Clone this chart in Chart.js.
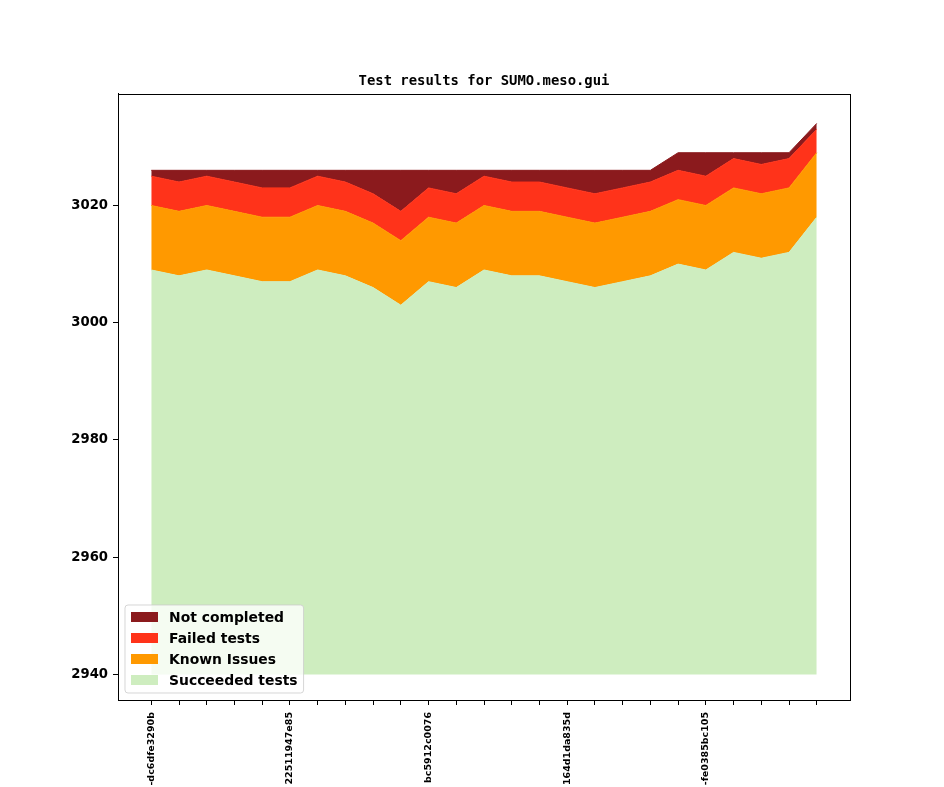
<!DOCTYPE html>
<html>
<head>
<meta charset="utf-8">
<script src="https://cdn.jsdelivr.net/npm/chart.js@4/dist/chart.umd.min.js"></script>
<style>
  html, body { margin: 0; padding: 0; background: #fff; overflow: hidden; }
  #wrap { width: 944px; height: 787px; position: relative; }
</style>
</head>
<body>
<div id="wrap"><canvas id="graph"></canvas></div>
<script>
// one point per test run
const succeeded = [3009, 3008, 3009, 3008, 3007, 3007, 3009, 3008, 3006, 3003, 3007, 3006, 3009,
                   3008, 3008, 3007, 3006, 3007, 3008, 3010, 3009, 3012, 3011, 3012, 3018];
const knownIssues = [11, 11, 11, 11, 11, 11, 11, 11, 11, 11, 11, 11, 11,
                     11, 11, 11, 11, 11, 11, 11, 11, 11, 11, 11, 11];
const failed = [5, 5, 5, 5, 5, 5, 5, 5, 5, 5, 5, 5, 5,
                5, 5, 5, 5, 5, 5, 5, 5, 5, 5, 5, 4];
const notCompleted = [1, 2, 1, 2, 3, 3, 1, 2, 4, 7, 3, 4, 1,
                      2, 2, 3, 4, 3, 2, 3, 4, 1, 2, 1, 1];
// labelled every 5th run
const runLabels = ["-dc6dfe3290b", "", "", "", "", "22511947e85", "", "", "", "", "bc5912c0076", "", "", "", "",
                   "164d1da835d", "", "", "", "", "-fe0385bc105", "", "", "", ""];
const yTicks = [2940, 2960, 2980, 3000, 3020];
const BASELINE = 2940;

const COLORS = {
    nc: "#8b1a1d",
    failed: "#ff331a",
    known: "#ff9900",
    ok: "#ceedbf",
};

const toPoints = (arr) => arr.map((v, i) => ({ x: i, y: v }));

const area = (label, values, color, fill) => ({
    label: label,
    data: toPoints(values),
    backgroundColor: color,
    borderColor: color,
    borderWidth: 1,
    pointRadius: 0,
    pointHoverRadius: 0,
    tension: 0,
    fill: fill,
});

// matplotlib-like legend box inside the lower left corner
const innerLegend = {
    id: "innerLegend",
    afterDraw(chart) {
        const c = chart.ctx;
        const a = chart.chartArea;
        const items = chart.data.datasets.slice().reverse();
        c.save();
        c.font = "bold 13.9px 'DejaVu Sans'";
        let tw = 0;
        items.forEach((d) => { tw = Math.max(tw, c.measureText(d.label).width); });
        const x0 = a.left + 7, h = 88, y0 = a.bottom - 7 - h;
        const w = 6 + 27 + 11 + tw + 6;
        c.beginPath();
        c.roundRect(x0, y0, w, h, 3);
        c.fillStyle = "rgba(255,255,255,0.8)";
        c.fill();
        c.strokeStyle = "rgba(204,204,204,0.8)";
        c.lineWidth = 1;
        c.stroke();
        c.textBaseline = "middle";
        c.textAlign = "left";
        items.forEach((d, i) => {
            const cy = y0 + 12 + i * 21;
            c.fillStyle = d.backgroundColor;
            c.fillRect(x0 + 6, cy - 5, 27, 10);
            c.fillStyle = "#000";
            c.fillText(d.label, x0 + 44, cy + 1);
        });
        c.restore();
    },
};

// full frame round the plot
const frame = {
    id: "frame",
    afterDraw(chart) {
        const a = chart.chartArea;
        const c = chart.ctx;
        c.save();
        c.strokeStyle = "#000";
        c.lineWidth = 1;
        c.strokeRect(Math.round(a.left) + 0.5, Math.round(a.top) + 0.5,
                     Math.round(a.right - a.left), Math.round(a.bottom - a.top));
        c.restore();
    },
};

new Chart(document.getElementById("graph"), {
    type: "line",
    data: {
        datasets: [
            area("Succeeded tests", succeeded, COLORS.ok, { value: BASELINE }),
            area("Known Issues", knownIssues, COLORS.known, "-1"),
            area("Failed tests", failed, COLORS.failed, "-1"),
            area("Not completed", notCompleted, COLORS.nc, "-1"),
        ],
    },
    options: {
        responsive: true,
        maintainAspectRatio: false,
        animation: false,
        events: [],
        layout: { padding: { left: 0, right: 94, top: 0, bottom: 0 } },
        plugins: {
            legend: { display: false },
            tooltip: { enabled: false },
            title: {
                display: true,
                fullSize: false,
                text: "Test results for SUMO.meso.gui",
                color: "#000",
                font: { family: "'DejaVu Sans Mono'", size: 13.9, weight: "bold", lineHeight: 1.2 },
                padding: { top: 72.6, bottom: 4.6 },
            },
        },
        scales: {
            x: {
                type: "linear",
                min: -1.2,
                max: 25.2,
                afterBuildTicks(scale) {
                    scale.ticks = runLabels.map((_, i) => ({ value: i }));
                },
                afterFit(scale) { scale.height = 87; },
                grid: { display: true, drawOnChartArea: false, drawTicks: true, tickLength: 5, color: "#000" },
                border: { display: true, color: "#000", width: 1 },
                ticks: {
                    autoSkip: false,
                    minRotation: 90,
                    maxRotation: 90,
                    padding: 7,
                    color: "#000",
                    font: { family: "'DejaVu Sans'", size: 9.5, weight: "bold" },
                    callback: (v) => runLabels[v] ?? "",
                },
            },
            y: {
                stacked: true,
                min: 2935.64,
                max: 3039.04,
                afterBuildTicks(scale) {
                    scale.ticks = yTicks.map((v) => ({ value: v }));
                },
                afterFit(scale) { scale.width = 118; },
                grid: { display: true, drawOnChartArea: false, drawTicks: true, tickLength: 5, color: "#000" },
                border: { display: true, color: "#000", width: 1 },
                ticks: {
                    padding: 5,
                    color: "#000",
                    font: { family: "'DejaVu Sans'", size: 13.2, weight: "bold" },
                    callback: (v) => String(v),
                },
            },
        },
    },
    plugins: [innerLegend, frame],
});
</script>
</body>
</html>
